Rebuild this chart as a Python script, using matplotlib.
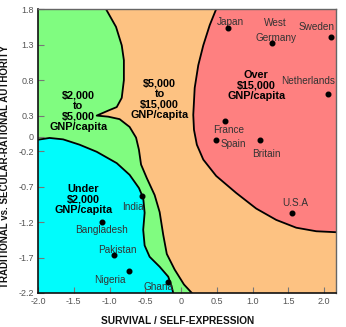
import matplotlib.pyplot as plt

# country positions on the two value dimensions
countries = ["Japan", "West\nGermany", "Sweden", "Netherlands", "France", "Spain",
             "Britain", "U.S.A", "India", "Bangladesh", "Pakistan", "Nigeria", "Ghana"]
survival = [0.66, 1.27, 2.10, 2.06, 0.62, 0.49, 1.11, 1.55, -0.55, -1.11, -0.94, -0.73, -0.19]
traditional = [1.54, 1.33, 1.41, 0.61, 0.23, -0.04, -0.05, -1.07, -0.84, -1.20, -1.67, -1.89, -2.04]

# where each country name sits
label_x = [0.685, 1.32, 1.89, 1.77, 0.66, 0.73, 1.19, 1.595, -0.68, -1.11, -0.89, -0.99, -0.31]
label_y = [1.62, 1.50, 1.55, 0.79, 0.10, -0.10, -0.24, -0.93, -0.995, -1.31, -1.59, -2.01, -2.11]

# income zone boundaries
green_x = [-1.05, -0.91, -0.83, -0.80, -0.80, -0.83, -0.90, -1.02, -1.18, -1.02, -0.86,
           -0.72, -0.63, -0.59, -0.56, -0.48, -0.37, -0.30, -0.25, -0.20, -0.09, 0.04, 0.15]
green_y = [1.80, 1.55, 1.29, 1.08, 0.80, 0.55, 0.42, 0.37, 0.30, 0.285, 0.25,
           0.14, -0.01, -0.18, -0.39, -0.58, -0.82, -1.06, -1.38, -1.65, -1.87, -2.08, -2.20]

cyan_x = [-2.00, -1.84, -1.65, -1.42, -1.18, -0.90, -0.72, -0.59, -0.53, -0.51, -0.53,
          -0.51, -0.44, -0.30, -0.18, -0.135, -0.11]
cyan_y = [-0.04, -0.015, -0.035, -0.11, -0.21, -0.37, -0.535, -0.72, -0.86, -1.07, -1.31,
          -1.53, -1.69, -1.83, -1.97, -2.10, -2.20]

red_x = [0.49, 0.40, 0.31, 0.24, 0.19, 0.17, 0.18, 0.22, 0.31, 0.49, 0.77, 1.05, 1.33,
         1.61, 1.89, 2.20]
red_y = [1.80, 1.575, 1.29, 1.01, 0.69, 0.31, 0.10, -0.11, -0.32, -0.55, -0.79, -1.01,
         -1.17, -1.28, -1.33, -1.345]

zone_labels = ["\\$2,000\nto\n\\$5,000\nGNP/capita", "\\$5,000\nto\n\\$15,000\nGNP/capita",
               "Over\n\\$15,000\nGNP/capita", "Under\n\\$2,000\nGNP/capita"]
zone_x = [-1.44, -0.30, 1.05, -1.37]
zone_y = [0.36, 0.53, 0.72, -0.88]

x_ticks = [-2.0, -1.5, -1.0, -0.5, 0, 0.5, 1.0, 1.5, 2.0]
x_ticklabels = ["-2.0", "-1.5", "-1.0", "-0.5", "0", "0.5", "1.0", "1.5", "2.0"]
y_ticks = [1.8, 1.3, 0.8, 0.3, 0, -0.2, -0.7, -1.2, -1.7, -2.2]
y_ticklabels = ["1.8", "1.3", "0.8", "0.3", "0", "-0.2", "-0.7", "-1.2", "-1.7", "-2.2"]

XMIN, XMAX, YMIN, YMAX = -2.0, 2.17, -2.2, 1.8

plt.rcParams["font.family"] = ["Liberation Sans", "DejaVu Sans"]

fig = plt.figure(figsize=(3.46, 3.27), dpi=100)
ax = fig.add_axes([0.110, 0.104, 0.862, 0.868])
ax.set_facecolor("#FDC282")

# green zone: everything left of the green/orange line
ax.fill([XMIN] + green_x + [XMIN], [YMAX] + green_y + [YMIN], color="#80FC80", lw=0)
# cyan zone in the lower left corner
ax.fill(cyan_x + [XMIN], cyan_y + [YMIN], color="#00FCFC", lw=0)
# red zone on the upper right
ax.fill(red_x + [XMAX + 0.1, XMAX + 0.1], red_y + [red_y[-1], YMAX], color="#FE8080", lw=0)

for bx, by in [(green_x, green_y), (cyan_x, cyan_y), (red_x, red_y)]:
    ax.plot(bx, by, color="black", lw=1.3, solid_joinstyle="round", solid_capstyle="round")

ax.scatter(survival, traditional, s=11, color="black", zorder=5)
for name, lx, ly in zip(countries, label_x, label_y):
    ax.text(lx, ly, name, ha="center", va="center", fontsize=7.2, color="#333333",
            linespacing=1.6)

for txt, zx, zy in zip(zone_labels, zone_x, zone_y):
    ax.text(zx, zy, txt, ha="center", va="center", fontsize=7.8, fontweight="bold",
            color="black", linespacing=1.05)

ax.set_xlim(XMIN, XMAX)
ax.set_ylim(YMIN, YMAX)
ax.set_xticks(x_ticks)
ax.set_xticklabels(x_ticklabels)
ax.set_yticks(y_ticks)
ax.set_yticklabels(y_ticklabels)
ax.tick_params(direction="in", length=4, width=0.8, color="#777777", labelcolor="#555555",
               labelsize=6.5, pad=3)

for side in ["left", "bottom"]:
    ax.spines[side].set_color("#111111")
    ax.spines[side].set_linewidth(1.2)
for side in ["top", "right"]:
    ax.spines[side].set_color("#666666")
    ax.spines[side].set_linewidth(1.0)

ax.set_xlabel("SURVIVAL / SELF-EXPRESSION", fontsize=7.3, fontweight="bold", color="#111111")
ax.set_ylabel("TRADITIONAL vs. SECULAR-RATIONAL AUTHORITY", fontsize=7.0, fontweight="bold",
              color="#111111")
ax.xaxis.set_label_coords(0.467, -0.08)
ax.yaxis.set_label_coords(-0.095, 0.444)

fig.savefig("out.png", dpi=100)
